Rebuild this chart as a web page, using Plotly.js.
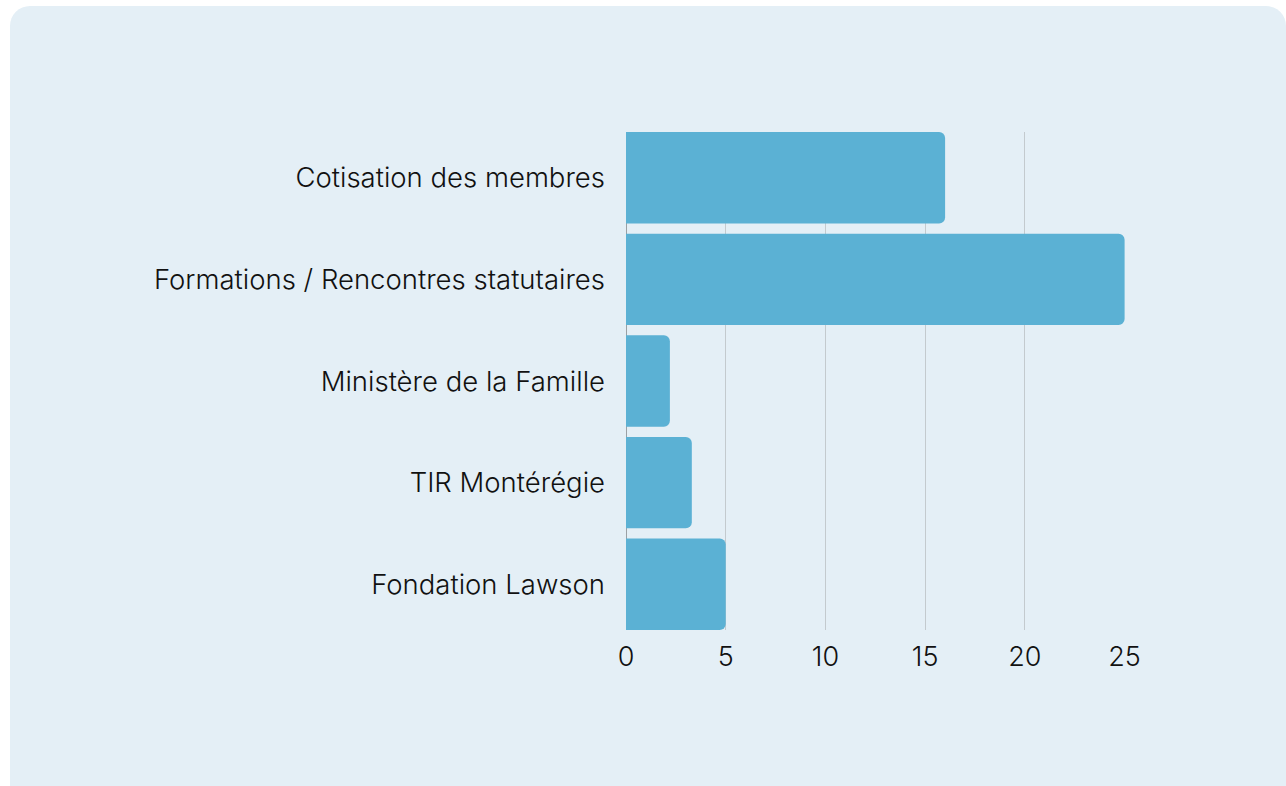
<!DOCTYPE html>
<html>
<head>
<meta charset="utf-8">
<script src="https://cdn.plot.ly/plotly-3.0.1.min.js"></script>
<style>
html,body{margin:0;padding:0;background:#ffffff;overflow:hidden;width:1286px;height:786px;}
#card{position:absolute;left:10px;top:6px;width:1276px;height:800px;border-radius:20px;background:#e4eff6;overflow:hidden;}
#chart{width:1276px;height:800px;}
</style>
</head>
<body>
<div id="card"><div id="chart"></div></div>
<script>
const categories = ["Cotisation des membres","Formations / Rencontres statutaires","Ministère de la Famille","TIR Montérégie","Fondation Lawson"];
const values = [16, 25, 2.2, 3.3, 5];
const tickValues = [0,5,10,15,20,25];

const trace = {
  type: 'bar',
  orientation: 'h',
  y: categories,
  x: values,
  marker: {color: '#5bb1d4', cornerradius: 6},
  hoverinfo: 'x+y'
};

const layout = {
  width: 1276, height: 800,
  margin: {l: 616, r: 161, t: 126, b: 176},
  paper_bgcolor: 'rgba(0,0,0,0)',
  plot_bgcolor: 'rgba(0,0,0,0)',
  bargap: 0.1,
  showlegend: false,
  font: {family: 'Inter, "Open Sans", sans-serif', color: '#111111'},
  xaxis: {
    range: [0, 25.02],
    tickvals: tickValues,
    ticktext: tickValues.map(String),
    showgrid: true,
    gridcolor: '#c3cace',
    gridwidth: 1,
    zeroline: true,
    zerolinecolor: '#9aa0a4',
    zerolinewidth: 1,
    showline: false,
    ticks: '',
    tickfont: {size: 27, color: '#111111', weight: 300},
    ticklabelstandoff: 8,
    fixedrange: true
  },
  yaxis: {
    range: [4.45, -0.45],
    showgrid: false,
    zeroline: false,
    showline: false,
    ticks: '',
    tickfont: {size: 27.5, color: '#111111', weight: 300},
    ticklabelstandoff: 20,
    fixedrange: true
  }
};

Plotly.newPlot('chart', [trace], layout, {displayModeBar: false, staticPlot: true});
</script>
</body>
</html>
